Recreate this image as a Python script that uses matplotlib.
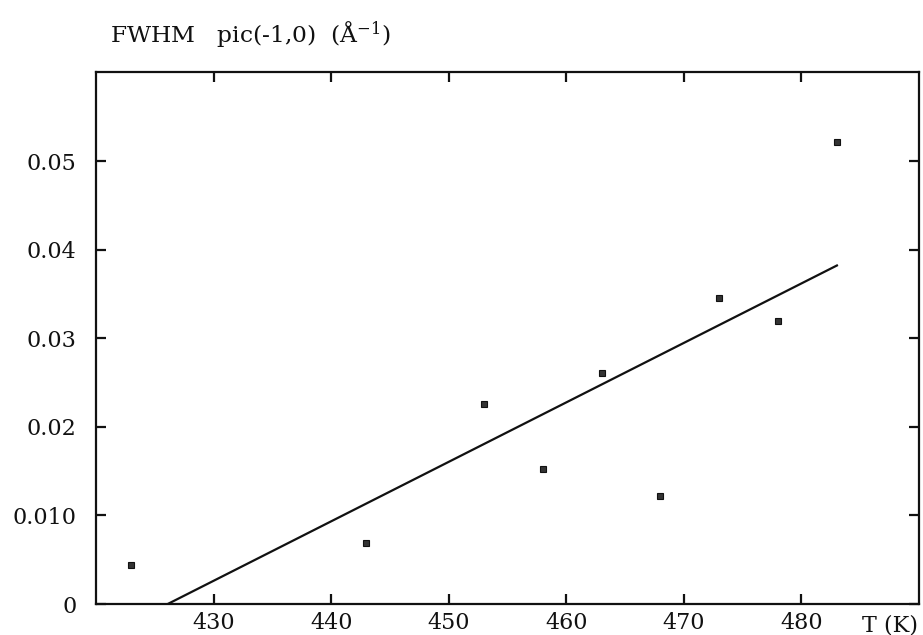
import matplotlib
matplotlib.use("Agg")
import matplotlib.pyplot as plt

# Data
T = [423, 443, 453, 458, 463, 468, 473, 478, 483]
fwhm = [0.0044, 0.0069, 0.0226, 0.0153, 0.0261, 0.0122, 0.0346, 0.0320, 0.0522]
fit_T = [426.1, 483.1]
fit_fwhm = [0.0, 0.0383]

xticks = [430, 440, 450, 460, 470, 480]
xticklabels = ["430", "440", "450", "460", "470", "480"]
yticks = [0.0, 0.01, 0.02, 0.03, 0.04, 0.05]
yticklabels = ["0", "0.010", "0.02", "0.03", "0.04", "0.05"]

plt.rcParams["font.family"] = ["DejaVu Serif"]
plt.rcParams["mathtext.fontset"] = "dejavuserif"

fig = plt.figure(figsize=(9.23, 6.35), dpi=100)
ax = fig.add_axes([0.104, 0.0488, 0.8917, 0.8378])

ax.plot(fit_T, fit_fwhm, color="#111111", lw=1.6, solid_capstyle="butt")
ax.plot(T, fwhm, linestyle="none", marker="s", markersize=4.8,
        markerfacecolor="#333333", markeredgecolor="#111111", markeredgewidth=0.8)

ax.set_xlim(420, 490)
ax.set_ylim(0, 0.0601)
ax.set_xticks(xticks)
ax.set_xticklabels(xticklabels)
ax.set_yticks(yticks)
ax.set_yticklabels(yticklabels)

for s in ax.spines.values():
    s.set_linewidth(1.6)
    s.set_color("#111111")

ax.tick_params(axis="both", direction="in", length=7, width=1.6,
               top=True, right=True, labelsize=16, colors="#111111")
ax.tick_params(axis="x", pad=6)
ax.tick_params(axis="y", pad=14)

ax.text(0.999, -0.051, "T (K)", transform=ax.transAxes, ha="right", va="baseline",
        fontsize=16, color="#111111")

fig.text(0.119, 0.945, r"FWHM   pic(-1,0)  (Å$^{\mathregular{-1}}$)",
         ha="left", va="center", fontsize=16.8, color="#111111")

fig.savefig("out.png", dpi=100)
